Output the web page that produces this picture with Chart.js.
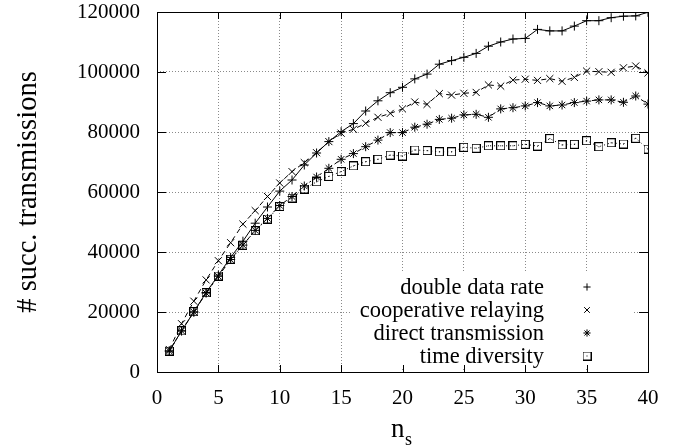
<!DOCTYPE html>
<html>
<head>
<meta charset="utf-8">
<script src="https://cdn.jsdelivr.net/npm/chart.js@4.4.1/dist/chart.umd.min.js"></script>
<style>
  html, body { margin: 0; padding: 0; background: #fff; }
</style>
</head>
<body>
<canvas id="chart" width="689" height="447"></canvas>
<script>
// n_s = 1..40
const nValues = [1, 2, 3, 4, 5, 6, 7, 8, 9, 10, 11, 12, 13, 14, 15, 16, 17, 18, 19, 20,
  21, 22, 23, 24, 25, 26, 27, 28, 29, 30, 31, 32, 33, 34, 35, 36, 37, 38, 39, 40];

const doubleDataRate = [7000, 13700, 20000, 26500, 32300, 38200, 43600, 49600, 55000, 60300,
  64000, 69000, 73000, 76800, 80100, 82800, 87000, 90400, 93100, 94900,
  97700, 99300, 102600, 103800, 104900, 106200, 108600, 110000, 111000, 111200,
  114200, 113700, 113700, 115300, 117100, 117100, 118100, 118600, 118700, 119900];

const cooperativeRelaying = [7500, 16100, 23600, 30700, 37100, 43100, 49300, 53800, 58500, 63000,
  66800, 69800, 73100, 76800, 79600, 80900, 82900, 84900, 86200, 87700,
  90000, 89200, 92800, 92300, 92900, 93200, 95700, 95300, 97300, 97600,
  97200, 97800, 96900, 98200, 100300, 100100, 99900, 101400, 102000, 99700];

const directTransmission = [7000, 13700, 20000, 26300, 31900, 37500, 42300, 47200, 51200, 55500,
  58500, 62000, 65000, 67900, 70900, 72800, 75100, 77300, 79800, 79800,
  81600, 82600, 84200, 84600, 85700, 85900, 84900, 87700, 88100, 88700,
  89800, 88700, 89000, 89800, 90300, 90700, 90700, 89900, 92000, 89300];

const timeDiversity = [7000, 13700, 20100, 26400, 32000, 37600, 42300, 47100, 51000, 55200,
  58000, 61000, 63400, 65200, 66800, 68700, 70100, 70900, 72300, 72000,
  74000, 73800, 73400, 73400, 74900, 74600, 75400, 75400, 75400, 75900,
  75300, 77800, 75700, 75900, 77100, 75100, 76400, 76000, 77900, 74300];

const seriesLabels = ["double data rate", "cooperative relaying", "direct transmission", "time diversity"];
const yTitle = "# succ. transmissions";

const SERIF = "'Liberation Serif', 'DejaVu Serif', serif";

// gnuplot's box point with a dot in the middle
function boxMarker() {
  const c = document.createElement("canvas");
  c.width = 9; c.height = 9;
  const g = c.getContext("2d");
  g.strokeStyle = "#000";
  g.lineWidth = 1;
  g.strokeRect(0.5, 0.5, 8, 8);
  g.fillStyle = "#000";
  g.fillRect(4, 4, 1, 1);
  return c;
}

const markers = [
  { pointStyle: "cross", radius: 4.5 },
  { pointStyle: "crossRot", radius: 5 },
  { pointStyle: "star", radius: 4.5 },
  { pointStyle: boxMarker(), radius: 4.5 }
];
const dashes = [[], [5, 4], [2, 3, 5, 3], [1, 3]];
const allSeries = [doubleDataRate, cooperativeRelaying, directTransmission, timeDiversity];

const datasets = allSeries.map((vals, i) => ({
  label: seriesLabels[i],
  data: nValues.map((n, j) => ({ x: n, y: vals[j] })),
  borderColor: "#000",
  borderWidth: 1,
  borderDash: dashes[i],
  pointStyle: markers[i].pointStyle,
  pointRadius: markers[i].radius,
  pointBorderColor: "#000",
  pointBackgroundColor: "rgba(0,0,0,0)",
  pointBorderWidth: 1,
  tension: 0
}));

// key box position (right-aligned text, marker to the right)
const KEY_TEXT_RIGHT = 544;
const KEY_MARK_X = 587;
const KEY_ROWS = [287, 310, 333, 356];
const KEY_FONT = "22.5px " + SERIF;

function keyBox(ctx) {
  ctx.save();
  ctx.font = KEY_FONT;
  const w = Math.max(...seriesLabels.map(s => ctx.measureText(s).width));
  ctx.restore();
  return { left: KEY_TEXT_RIGHT - w - 8, right: 633, top: KEY_ROWS[0] - 14, bottom: KEY_ROWS[3] + 13 };
}

const framePlugin = {
  id: "frame",
  beforeDatasetsDraw(chart) {
    const ctx = chart.ctx;
    const k = keyBox(ctx);
    ctx.save();
    ctx.fillStyle = "#fff";
    ctx.fillRect(k.left, k.top, k.right - k.left, k.bottom - k.top);
    ctx.restore();
  },
  afterDatasetsDraw(chart) {
    const { ctx, chartArea: a, scales: { x, y } } = chart;
    ctx.save();
    ctx.strokeStyle = "#000";
    ctx.lineWidth = 1;
    ctx.beginPath();
    x.ticks.forEach(t => {
      const px = Math.round(x.getPixelForValue(t.value)) + 0.5;
      ctx.moveTo(px, a.bottom); ctx.lineTo(px, a.bottom - 7);
      ctx.moveTo(px, a.top); ctx.lineTo(px, a.top + 7);
    });
    y.ticks.forEach(t => {
      const py = Math.round(y.getPixelForValue(t.value)) + 0.5;
      ctx.moveTo(a.left, py); ctx.lineTo(a.left + 9, py);
      ctx.moveTo(a.right, py); ctx.lineTo(a.right - 9, py);
    });
    ctx.stroke();
    ctx.strokeRect(Math.round(a.left) + 0.5, Math.round(a.top) + 0.5,
      Math.round(a.right - a.left), Math.round(a.bottom - a.top));
    ctx.restore();
  },
  afterDraw(chart) {
    const ctx = chart.ctx;
    ctx.save();
    // key
    ctx.font = KEY_FONT;
    ctx.fillStyle = "#000";
    ctx.textAlign = "right";
    ctx.textBaseline = "middle";
    seriesLabels.forEach((s, i) => {
      ctx.fillText(s, KEY_TEXT_RIGHT, KEY_ROWS[i] + 1);
      ctx.strokeStyle = "#000";
      ctx.lineWidth = 1;
      Chart.helpers.drawPoint(ctx, {
        pointStyle: markers[i].pointStyle,
        radius: markers[i].radius * 0.8,
        rotation: 0,
        borderWidth: 1
      }, KEY_MARK_X, KEY_ROWS[i]);
    });
    // x axis title n_s
    ctx.textAlign = "left";
    ctx.textBaseline = "alphabetic";
    ctx.font = "27px " + SERIF;
    ctx.fillText("n", 391, 437);
    ctx.font = "18px " + SERIF;
    ctx.fillText("s", 405, 445);
    ctx.restore();
  }
};

new Chart(document.getElementById("chart"), {
  type: "line",
  data: { datasets },
  options: {
    responsive: false,
    animation: false,
    devicePixelRatio: 1,
    layout: { padding: { left: 0, top: 0, right: 41, bottom: 0 } },
    plugins: {
      legend: { display: false },
      tooltip: { enabled: false }
    },
    scales: {
      x: {
        type: "linear",
        min: 0,
        max: 40,
        ticks: { stepSize: 5, color: "#000", font: { family: SERIF, size: 21 }, padding: 14, maxRotation: 0 },
        grid: { color: "#8a8a8a", drawTicks: false },
        border: { display: false, dash: [1, 2] },
        afterFit(s) { s.height = 75; }
      },
      y: {
        min: 0,
        max: 120000,
        ticks: { stepSize: 20000, color: "#000", font: { family: SERIF, size: 21, lineHeight: 1 }, padding: 17,
          callback: v => String(v) },
        grid: { color: "#8a8a8a", drawTicks: false },
        border: { display: false, dash: [1, 2] },
        title: { display: true, text: yTitle, color: "#000", font: { family: SERIF, size: 28.5 }, padding: { top: 11, bottom: 0 } },
        afterFit(s) { s.width = 157; s.paddingTop = 12; }
      }
    }
  },
  plugins: [framePlugin]
});
</script>
</body>
</html>
